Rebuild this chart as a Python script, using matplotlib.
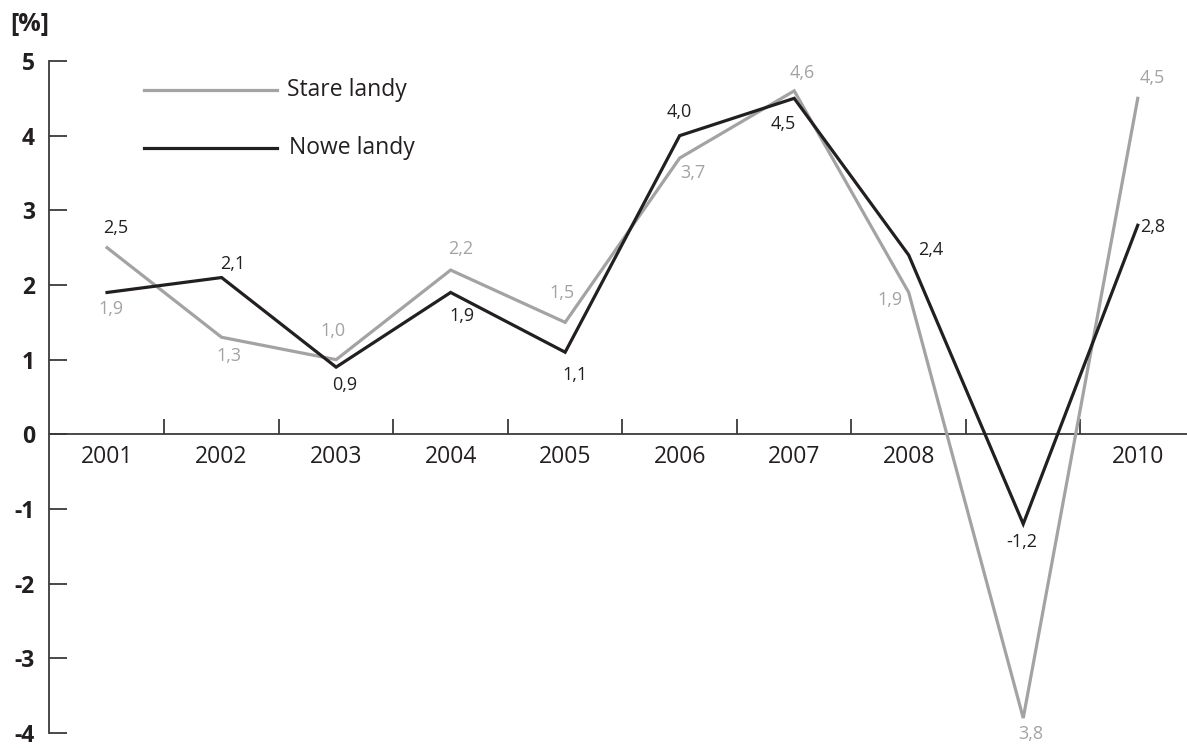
import matplotlib
matplotlib.use("Agg")
import matplotlib.pyplot as plt
import numpy as np

GRAY = "#a3a3a3"
BLACK = "#231f20"
AXIS = "#3a3a3a"

plt.rcParams["font.family"] = ["Open Sans", "DejaVu Sans"]

# --------------------------------------------------------------------------- #
# Data
# --------------------------------------------------------------------------- #
years = [2001, 2002, 2003, 2004, 2005, 2006, 2007, 2008, 2009, 2010]
year_labels = ["2001", "2002", "2003", "2004", "2005", "2006", "2007", "2008", "", "2010"]
stare = [2.5, 1.3, 1.0, 2.2, 1.5, 3.7, 4.6, 1.9, -3.8, 4.5]
nowe = [1.9, 2.1, 0.9, 1.9, 1.1, 4.0, 4.5, 2.4, -1.2, 2.8]
stare_labels = ["2,5", "1,3", "1,0", "2,2", "1,5", "3,7", "4,6", "1,9", "3,8", "4,5"]
nowe_labels = ["1,9", "2,1", "0,9", "1,9", "1,1", "4,0", "4,5", "2,4", "-1,2", "2,8"]
yticks = [-4, -3, -2, -1, 0, 1, 2, 3, 4, 5]

# label placement (pixels from the point)
stare_off = [(9, 20), (7, -19), (-3, 29), (10, 21), (-3, 29),
             (13, -15), (8, 18), (-19, -8), (8, -16), (14, 20)]
nowe_off = [(4, -17), (11, 14), (9, -18), (11, -24), (10, -23),
            (0, 24), (-11, -26), (22, 5), (-1, -18), (15, -2)]

fig = plt.figure(figsize=(11.87, 7.48), dpi=100)
ax = fig.add_axes([49 / 1187, 15 / 748, 1 - 49 / 1187, 672 / 748])

x = np.arange(len(years))
ax.plot(x, stare, color=GRAY, lw=2.3, solid_joinstyle="miter", zorder=3)
ax.plot(x, nowe, color=BLACK, lw=2.3, solid_joinstyle="miter", zorder=4)

for i in x:
    # the first year has the label colours swapped in the original
    c_s = BLACK if i == 0 else GRAY
    c_n = GRAY if i == 0 else BLACK
    ax.annotate(stare_labels[i], (i, stare[i]), xytext=stare_off[i],
                textcoords="offset pixels", ha="center", va="center",
                fontsize=13, color=c_s)
    ax.annotate(nowe_labels[i], (i, nowe[i]), xytext=nowe_off[i],
                textcoords="offset pixels", ha="center", va="center",
                fontsize=13, color=c_n)

# zero line with category separators and year labels
ax.axhline(0, color=AXIS, lw=1.3, zorder=2)
ax.vlines(x[:-1] + 0.5, 0, 0.21, color=AXIS, lw=1.3, zorder=2)
for i, lab in zip(x, year_labels):
    ax.annotate(lab, (i, 0), xytext=(0, -23), textcoords="offset pixels",
                ha="center", va="center", fontsize=16.5, color=BLACK)

ax.set_xlim(-0.507, 9.43)
ax.set_ylim(-4, 5)
ax.set_xticks([])
ax.set_yticks(yticks)
ax.set_yticklabels([str(t) for t in yticks], fontsize=16.5, fontweight="bold", color=BLACK)
ax.tick_params(axis="y", direction="in", length=13, width=1.3, color=AXIS, pad=10)
for s in ["top", "right", "bottom"]:
    ax.spines[s].set_visible(False)
ax.spines["left"].set_color(AXIS)
ax.spines["left"].set_linewidth(1.3)

# legend drawn by hand
ax.plot([0.0835, 0.2004], [0.957, 0.957], transform=ax.transAxes, color=GRAY, lw=2.3)
ax.plot([0.0835, 0.2004], [0.870, 0.870], transform=ax.transAxes, color=BLACK, lw=2.3)
ax.text(0.209, 0.957, "Stare landy", transform=ax.transAxes, va="center", fontsize=16.5, color=BLACK)
ax.text(0.211, 0.870, "Nowe landy", transform=ax.transAxes, va="center", fontsize=16.5, color=BLACK)

fig.text(30 / 1187, 1 - 24 / 748, "[%]", ha="center", va="center",
         fontsize=18, fontweight="bold", color=BLACK)

fig.savefig("out.png", dpi=100)
